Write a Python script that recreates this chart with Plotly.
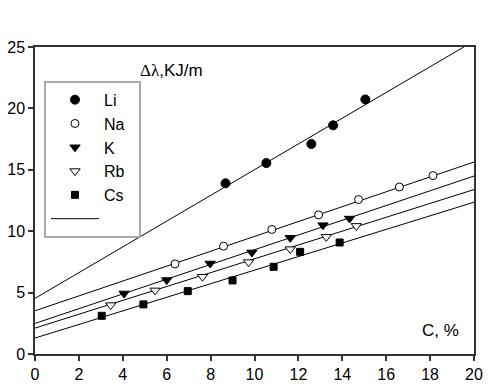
import plotly.graph_objects as go

# ---- data ----
li_x = [8.68, 10.54, 12.59, 13.58, 15.05]
li_y = [13.9, 15.55, 17.1, 18.62, 20.73]
na_x = [6.38, 8.59, 10.79, 12.92, 14.74, 16.6, 18.13]
na_y = [7.34, 8.78, 10.14, 11.33, 12.58, 13.6, 14.53]
k_x = [4.06, 6.0, 7.98, 9.88, 11.63, 13.12, 14.33]
k_y = [4.93, 6.02, 7.37, 8.27, 9.46, 10.49, 11.03]
rb_x = [3.45, 5.47, 7.63, 9.73, 11.63, 13.27, 14.64]
rb_y = [3.98, 5.18, 6.29, 7.48, 8.54, 9.54, 10.43]
cs_x = [3.04, 4.94, 6.96, 9.0, 10.87, 12.08, 13.88]
cs_y = [3.11, 4.04, 5.12, 5.99, 7.1, 8.32, 9.08]

# linear fits: intercept, slope
fit_intercepts = [4.53, 3.52, 2.49, 2.11, 1.30]
fit_slopes = [1.048, 0.6055, 0.60, 0.564, 0.553]
fit_x_range = [0, 20]

x_ticks = list(range(0, 21, 2))
y_ticks = list(range(0, 26, 5))

pad = "&nbsp;&nbsp;"
series = [
    ("Li", li_x, li_y, dict(symbol="circle", size=9, color="black", line=dict(color="black", width=1))),
    ("Na", na_x, na_y, dict(symbol="circle", size=8, color="white", line=dict(color="black", width=1))),
    ("K", k_x, k_y, dict(symbol="triangle-down", size=9, color="black", line=dict(color="black", width=1))),
    ("Rb", rb_x, rb_y, dict(symbol="triangle-down", size=9, color="white", line=dict(color="black", width=1))),
    ("Cs", cs_x, cs_y, dict(symbol="square", size=7, color="black", line=dict(color="black", width=1))),
]

fig = go.Figure()

for i, (b, m) in enumerate(zip(fit_intercepts, fit_slopes)):
    xs = fit_x_range
    ys = [b + m * x for x in xs]
    fig.add_trace(go.Scatter(
        x=xs, y=ys, mode="lines", line=dict(color="black", width=1),
        name=" ", showlegend=(i == 0), legendrank=1000, hoverinfo="skip",
    ))

for r, (name, xs, ys, mk) in enumerate(series):
    fig.add_trace(go.Scatter(x=xs, y=ys, mode="markers", name=name + pad, marker=mk,
                             legendrank=r + 1))

axis_common = dict(
    showgrid=False, zeroline=False, showline=True, linecolor="#333", linewidth=1.5,
    mirror=True, ticks="outside", ticklen=5, tickwidth=1.5, tickcolor="#333",
    tickfont=dict(family="Arial, Liberation Sans", size=16, color="black"),
    automargin=False,
)

fig.update_xaxes(range=[0, 20], tickvals=x_ticks, **axis_common)
fig.update_yaxes(range=[0, 25], tickvals=y_ticks, **axis_common)

fig.update_layout(
    width=500, height=389,
    margin=dict(l=35, r=26, t=47, b=35),
    plot_bgcolor="white", paper_bgcolor="white",
    font=dict(family="Arial, Liberation Sans", color="black"),
    legend=dict(
        x=0.0205, y=0.89, xanchor="left", yanchor="top",
        bgcolor="white", bordercolor="#aaa", borderwidth=2,
        font=dict(size=16, family="Arial, Liberation Sans"),
        itemwidth=48, traceorder="normal", tracegroupgap=0,
    ),
    annotations=[
        dict(text='<span style="font-family:Liberation Serif">Δλ</span>,KJ/m',
             xref="paper", yref="paper", x=0.235, y=0.925,
             xanchor="left", yanchor="middle", showarrow=False,
             font=dict(size=17, family="Arial, Liberation Sans")),
        dict(text="C, %", xref="paper", yref="paper", x=0.970, y=0.078,
             xanchor="right", yanchor="middle", showarrow=False,
             font=dict(size=17, family="Arial, Liberation Sans")),
    ],
)

fig.write_html("out.html", config={"displayModeBar": False},
               post_script="document.body.style.margin='0';")
